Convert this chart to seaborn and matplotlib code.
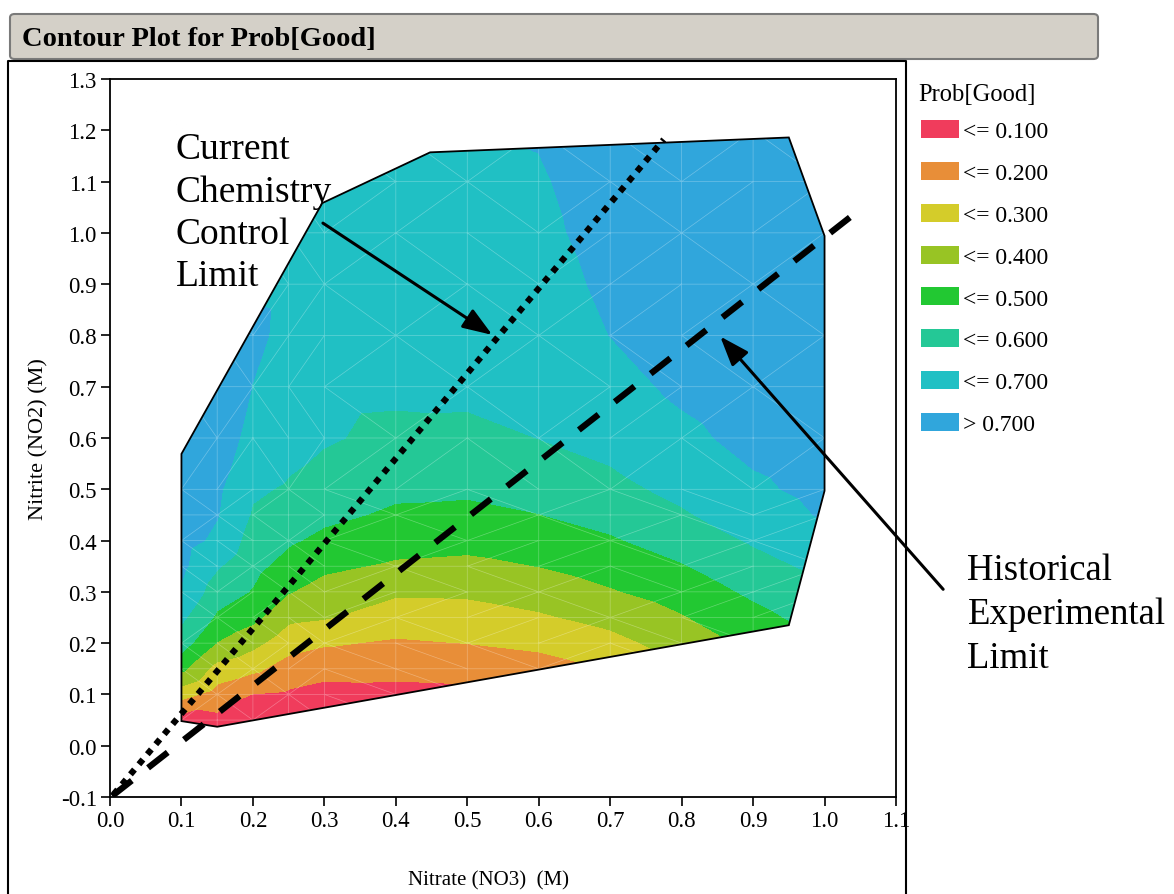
import numpy as np
import matplotlib
matplotlib.use("Agg")
import matplotlib.pyplot as plt
import matplotlib.tri as mtri
import seaborn as sns
from matplotlib.patches import Polygon, Patch, FancyBboxPatch
from matplotlib.lines import Line2D

# grid of Prob[Good] estimates
nitrate_grid = [0.1, 0.15, 0.2, 0.25, 0.3, 0.4, 0.5, 0.6, 0.7, 0.8, 0.9, 1.0]
nitrite_grid = [0.0, 0.05, 0.1, 0.15, 0.2, 0.25, 0.3, 0.35, 0.4, 0.45, 0.5,
                0.6, 0.7, 0.8, 0.9, 1.0, 1.1, 1.2]
# one row per nitrite value, one column per nitrate value
prob_good = [
    [0.000, 0.000, 0.000, 0.000, 0.000, 0.000, 0.000, 0.000, 0.020, 0.140, 0.230, 0.333],
    [0.056, 0.075, 0.000, 0.010, 0.000, 0.010, 0.010, 0.027, 0.080, 0.190, 0.277, 0.375],
    [0.238, 0.157, 0.097, 0.085, 0.062, 0.069, 0.075, 0.092, 0.144, 0.242, 0.325, 0.417],
    [0.424, 0.262, 0.221, 0.159, 0.135, 0.129, 0.137, 0.157, 0.206, 0.292, 0.373, 0.458],
    [0.547, 0.395, 0.328, 0.237, 0.210, 0.188, 0.201, 0.222, 0.268, 0.342, 0.421, 0.501],
    [0.620, 0.483, 0.426, 0.322, 0.307, 0.250, 0.257, 0.287, 0.330, 0.392, 0.469, 0.542],
    [0.690, 0.548, 0.493, 0.405, 0.362, 0.314, 0.316, 0.344, 0.391, 0.442, 0.517, 0.583],
    [0.720, 0.610, 0.528, 0.462, 0.418, 0.386, 0.376, 0.401, 0.441, 0.493, 0.565, 0.625],
    [0.735, 0.680, 0.559, 0.513, 0.476, 0.437, 0.429, 0.449, 0.489, 0.542, 0.610, 0.667],
    [0.740, 0.705, 0.590, 0.552, 0.522, 0.484, 0.476, 0.498, 0.533, 0.590, 0.646, 0.710],
    [0.745, 0.715, 0.613, 0.590, 0.558, 0.519, 0.515, 0.533, 0.577, 0.621, 0.681, 0.730],
    [0.750, 0.750, 0.670, 0.630, 0.610, 0.576, 0.573, 0.601, 0.627, 0.675, 0.730, 0.760],
    [0.750, 0.750, 0.698, 0.655, 0.625, 0.620, 0.625, 0.620, 0.664, 0.720, 0.760, 0.780],
    [0.750, 0.740, 0.720, 0.675, 0.640, 0.640, 0.645, 0.639, 0.701, 0.745, 0.775, 0.790],
    [0.750, 0.740, 0.690, 0.680, 0.655, 0.655, 0.660, 0.658, 0.720, 0.760, 0.785, 0.790],
    [0.750, 0.740, 0.690, 0.685, 0.665, 0.665, 0.672, 0.677, 0.735, 0.770, 0.790, 0.790],
    [0.750, 0.740, 0.690, 0.690, 0.670, 0.675, 0.680, 0.690, 0.745, 0.775, 0.790, 0.790],
    [0.750, 0.740, 0.690, 0.690, 0.670, 0.680, 0.685, 0.708, 0.750, 0.780, 0.790, 0.790],
]

# outline of the experimental region
region_nitrate = [0.1, 0.15, 0.95, 1.0, 1.0, 0.95, 0.448, 0.297, 0.1]
region_nitrite = [0.048, 0.037, 0.235, 0.497, 0.994, 1.186, 1.157, 1.058, 0.569]

# the two straight limit lines
control_limit_nitrate = [0.005, 0.775]
control_limit_nitrite = [-0.095, 1.182]
historical_limit_nitrate = [0.003, 1.05]
historical_limit_nitrite = [-0.098, 1.046]

prob_levels = [0.0, 0.1, 0.2, 0.3, 0.4, 0.5, 0.6, 0.7, 1.0]
level_colors = ['#f03c5c', '#e88e38', '#d4cc2a', '#98c424',
                '#22c832', '#24c896', '#20c0c4', '#30a6dc']
level_labels = ['<= 0.100', '<= 0.200', '<= 0.300', '<= 0.400',
                '<= 0.500', '<= 0.600', '<= 0.700', '> 0.700']

x_ticks = [0.0, 0.1, 0.2, 0.3, 0.4, 0.5, 0.6, 0.7, 0.8, 0.9, 1.0, 1.1]
y_ticks = [-0.1, 0.0, 0.1, 0.2, 0.3, 0.4, 0.5, 0.6, 0.7, 0.8, 0.9, 1.0, 1.1, 1.2, 1.3]

sns.set_theme(style='ticks')
plt.rcParams['font.family'] = ['Liberation Serif', 'DejaVu Serif']
plt.rcParams['text.color'] = 'black'
plt.rcParams['axes.labelcolor'] = 'black'
plt.rcParams['xtick.color'] = 'black'
plt.rcParams['ytick.color'] = 'black'

W, H = 1174, 895
fig = plt.figure(figsize=(W / 100, H / 100), dpi=100)
fig.patch.set_facecolor('white')
ax = fig.add_axes([110 / W, 1 - 798 / H, 786 / W, 718 / H])

# contour fill on a triangulated grid, clipped to the experimental region
gx, gy = np.meshgrid(nitrate_grid, nitrite_grid)
tri = mtri.Triangulation(gx.ravel(), gy.ravel())
region = Polygon(np.column_stack([region_nitrate, region_nitrite]), closed=True,
                 facecolor='none', edgecolor='black', lw=1.3, zorder=3)
ax.add_patch(region)
cs = ax.tricontourf(tri, np.asarray(prob_good).ravel(), levels=prob_levels,
                    colors=level_colors, zorder=1)
cs.set_clip_path(region)
mesh = ax.triplot(tri, color='white', lw=0.5, alpha=0.3, zorder=2)
for ln in mesh:
    ln.set_clip_path(region)

# limit lines
sns.lineplot(x=control_limit_nitrate, y=control_limit_nitrite, ax=ax,
             color='black', lw=4.5, zorder=4)
ax.lines[-1].set_linestyle((0, (1, 1.1)))
ax.lines[-1].set_dash_capstyle('butt')
sns.lineplot(x=historical_limit_nitrate, y=historical_limit_nitrite, ax=ax,
             color='black', lw=4.5, zorder=4)
ax.lines[-1].set_linestyle((0, (4, 3.3)))
ax.lines[-1].set_dash_capstyle('butt')

# annotations
arrow_kw = dict(arrowstyle='-|>,head_length=0.6,head_width=0.22', color='black',
                lw=2.2, mutation_scale=30, shrinkA=0, shrinkB=0)
ax.annotate('', xy=(0.535, 0.801), xytext=(0.298, 1.019),
            arrowprops=arrow_kw, annotation_clip=False, zorder=5)
ax.annotate('', xy=(0.854, 0.798), xytext=(1.166, 0.305),
            arrowprops=arrow_kw, annotation_clip=False, zorder=5)
ax.text(0.092, 1.197, 'Current\nChemistry\nControl\nLimit', fontsize=27,
        va='top', ha='left', linespacing=1.29, zorder=5)
ax.text(1.2, 0.377, 'Historical\nExperimental\nLimit', fontsize=26.5,
        va='top', ha='left', linespacing=1.36, clip_on=False, zorder=5)

ax.set_xlim(0, 1.1)
ax.set_ylim(-0.1, 1.3)
ax.set_xticks(x_ticks)
ax.set_xticklabels([f'{v:.1f}' for v in x_ticks])
ax.set_yticks(y_ticks)
ax.set_yticklabels([f'{v:.1f}' for v in y_ticks])
ax.tick_params(direction='out', length=6.5, width=1.2, labelsize=16.5, pad=3)
for sp in ax.spines.values():
    sp.set_visible(True)
    sp.set_color('black')
    sp.set_linewidth(1.3)
ax.set_xlabel('Nitrate (NO3)  (M)', fontsize=15)
ax.set_ylabel('Nitrite (NO2) (M)', fontsize=16)
ax.xaxis.set_label_coords(0.481, -0.1026)
ax.yaxis.set_label_coords(-0.078, 0.5)

# legend
fig.text(918 / W, 1 - 95 / H, 'Prob[Good]', fontsize=17.7, va='center', ha='left')
handles = [Patch(facecolor=c, edgecolor='none', label=l)
           for c, l in zip(level_colors, level_labels)]
leg = ax.legend(handles=handles, loc='upper left',
                bbox_to_anchor=(921 / W, 1 - 121 / H), bbox_transform=fig.transFigure,
                frameon=False, fontsize=17, handlelength=1.61, handleheight=0.8,
                labelspacing=0.83, handletextpad=0.15, borderaxespad=0, borderpad=0)

# title bar and outer frame
bar = FancyBboxPatch((10 / W, 1 - 60 / H), 1088 / W, 45 / H,
                     boxstyle='round,pad=0,rounding_size=0.004',
                     transform=fig.transFigure, facecolor='#d4d0c8',
                     edgecolor='#7a7a7a', lw=1.5)
fig.add_artist(bar)
fig.text(22 / W, 1 - 40 / H, 'Contour Plot for Prob[Good]', fontsize=20.5,
         fontweight='bold', va='center', ha='left')
fig.add_artist(Line2D([8 / W, 8 / W, 906 / W, 906 / W],
                      [0, 1 - 62 / H, 1 - 62 / H, 0],
                      transform=fig.transFigure, color='black', lw=1.5))

fig.savefig('out.png', dpi=100, facecolor='white')
